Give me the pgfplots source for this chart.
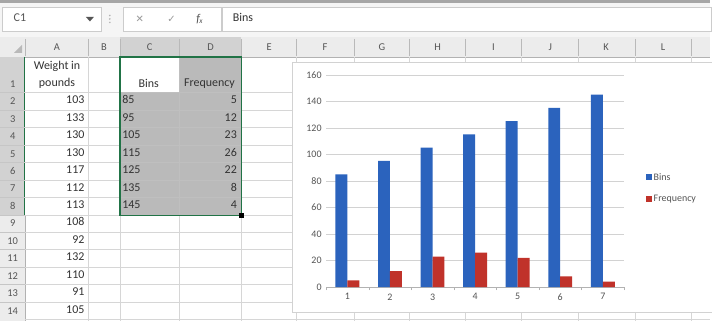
\documentclass[border=0pt]{standalone}
\usepackage{pgfplots}
\pgfplotsset{compat=1.18}
\usepackage{fontspec}
\setmainfont{Carlito}
\newfontfamily\symfont{DejaVu Sans}

\definecolor{binblue}{RGB}{43,99,189}
\definecolor{freqred}{RGB}{192,50,42}
\definecolor{hdrgray}{RGB}{236,236,236}
\definecolor{hdrsel}{RGB}{210,210,210}
\definecolor{selgray}{RGB}{186,186,186}
\definecolor{gridgray}{RGB}{214,214,214}
\definecolor{xlgreen}{RGB}{33,115,70}
\definecolor{txtgray}{RGB}{85,85,85}

% bin table: bin upper limit and count
\pgfplotstableread{
idx bins freq
1 85 5
2 95 12
3 105 23
4 115 26
5 125 22
6 135 8
7 145 4
}\bindata

\newcommand{\cellfont}{\fontsize{12}{12}\selectfont}
\newcommand{\hdrfont}{\fontsize{10.5}{11}\selectfont}

\begin{document}
\begin{tikzpicture}
% ---------------- worksheet ----------------
\begin{scope}[x=1pt,y=-1pt]
  \fill[white] (0,0) rectangle (712,322);
  % window edge and formula bar
  \fill[gray!70] (0,0) rectangle (712,3);
  \fill[gray!8] (0,3) rectangle (712,37);
  \draw[gray!40,fill=white] (2,7) rectangle (101,31);
  \draw[gray!40,fill=white] (123,7) rectangle (222,31);
  \draw[gray!40,fill=white] (223,7) rectangle (713,31);
  \node[anchor=mid west,txtgray] at (10,19) {\cellfont C1};
  \fill[txtgray] (86,17) -- (94,17) -- (90,21.5) -- cycle;
  \foreach \yy in {15.5,19,22.5} \fill[gray!60] (110,\yy) circle (0.9);
  \node[gray!80] at (140,19) {\symfont\fontsize{10}{10}\selectfont ✕};
  \node[gray!80] at (172,19) {\symfont\fontsize{10}{10}\selectfont ✓};
  \node[txtgray] at (200,19) {\fontsize{12}{12}\selectfont\itshape f\kern-0.5pt\raisebox{-1.5pt}{\fontsize{7.5}{7.5}\selectfont x}};
  \node[anchor=mid west,black!80] at (230,19) {\cellfont Bins};

  % column header row
  \fill[hdrgray] (0,37) rectangle (712,57);
  \fill[hdrsel] (120,37) rectangle (242,57);
  \draw[xlgreen,line width=1.5] (120,56.5) -- (242,56.5);
  \draw[gray!60] (0,57) -- (712,57);
  \foreach \cx in {25,88,120,180,242,297,355,410,467,523,580,637,693}
    \draw[gray!55] (\cx,39) -- (\cx,56);
  \fill[gray!55] (22,53) -- (22,45) -- (14,53) -- cycle;
  \foreach \lbl/\cx in {A/57,B/104,C/150,D/211,E/270,F/326,G/383,H/439,I/495,J/552,K/608,L/665}
    \node[txtgray] at (\cx,47) {\hdrfont\lbl};

  % row header column
  \fill[hdrgray] (0,57) rectangle (25,322);
  \fill[hdrsel] (0,57) rectangle (25,216);
  \draw[xlgreen,line width=1.5] (24.5,57) -- (24.5,216);
  \draw[gray!60] (25,216) -- (25,322);
  \node[txtgray] at (12.5,84) {\hdrfont 1};
  \foreach \r in {2,...,14}
    \node[txtgray] at (12.5,{93+17.5*(\r-2)+8.75}) {\hdrfont\r};
  \foreach \r in {2,...,14}
    \draw[gray!45] (0,{93+17.5*(\r-2)}) -- (25,{93+17.5*(\r-2)});

  % cell grid
  \foreach \r in {2,...,15}
    \draw[gridgray] (25,{93+17.5*(\r-2)}) -- (712,{93+17.5*(\r-2)});
  \foreach \cx in {88,120,180,242,297,355,410,467,523,580,637,693}
    \draw[gridgray] (\cx,57) -- (\cx,322);

  % selected range C1:D8
  \fill[selgray] (180,57) rectangle (242,216);
  \fill[selgray] (120,93) rectangle (180,216);
  \draw[gray!50] (180,57) -- (180,216);
  \foreach \r in {2,...,8}
    \draw[gray!50] (120,{93+17.5*(\r-2)}) -- (242,{93+17.5*(\r-2)});
  \draw[xlgreen,line width=1.5] (120,57) rectangle (242,216);
  \fill[black] (240,214) rectangle (245,219);

  % cell contents
  \node[black!80] at (57,67) {\cellfont Weight in};
  \node[black!80] at (57,84) {\cellfont pounds};
  \node[black!80] at (149,84) {\cellfont Bins};
  \node[black!80] at (210,84) {\cellfont Frequency};
  \foreach \v [count=\i from 2] in {103,133,130,130,117,112,113,108,92,132,110,91,105}
    \node[anchor=mid east,black!80] at (88,{93+17.5*(\i-2)+8.75}) {\cellfont\v};
  \foreach \v [count=\i from 2] in {85,95,105,115,125,135,145}
    \node[anchor=mid west,black!80] at (119,{93+17.5*(\i-2)+8.75}) {\cellfont\v};
  \foreach \v [count=\i from 2] in {5,12,23,26,22,8,4}
    \node[anchor=mid east,black!80] at (241,{93+17.5*(\i-2)+8.75}) {\cellfont\v};

  % embedded chart area
  \draw[gray!35,fill=white] (293,62) rectangle (714,313);
\end{scope}

% ---------------- embedded column chart ----------------
\begin{axis}[
  scale only axis,
  width=299pt, height=213pt,
  at={(327pt,-288pt)}, anchor=south west,
  ymin=0, ymax=160, ytick={0,20,...,160},
  xmin=0.5, xmax=7.5,
  xtick={1,...,7},
  minor xtick={0.5,1.5,...,7.5},
  tick align=outside,
  major tick length=0pt,
  minor tick length=3pt,
  minor x tick style={gray!60},
  separate axis lines,
  axis x line*=bottom,
  axis y line*=left,
  x axis line style={gray!60,-},
  y axis line style={draw=none},
  ymajorgrids,
  grid style={gray!35},
  tick label style={font=\fontsize{10}{10}\selectfont, text=txtgray},
  /pgf/number format/assume math mode=true,
  xticklabel style={yshift=-3pt},
  yticklabel style={xshift=-1pt},
  ybar, bar width=12pt,
  legend style={draw=none, fill=none, at={(1.072,0.465)}, anchor=west,
    font=\fontsize{10}{10}\selectfont, text=txtgray,
    row sep=10pt, inner sep=0pt},
  legend cell align=left,
  legend image code/.code={\fill[#1] (0pt,-3pt) rectangle (6pt,3pt);},
]
  \addplot[fill=binblue, draw=none, bar shift=-6pt] table[x=idx, y=bins] {\bindata};
  \addlegendentry{Bins}
  \addplot[fill=freqred, draw=none, bar shift=6pt] table[x=idx, y=freq] {\bindata};
  \addlegendentry{Frequency}
\end{axis}

% keep the page at the screenshot size
\useasboundingbox (0pt,0pt) rectangle (712pt,-322pt);
\end{tikzpicture}
\end{document}
